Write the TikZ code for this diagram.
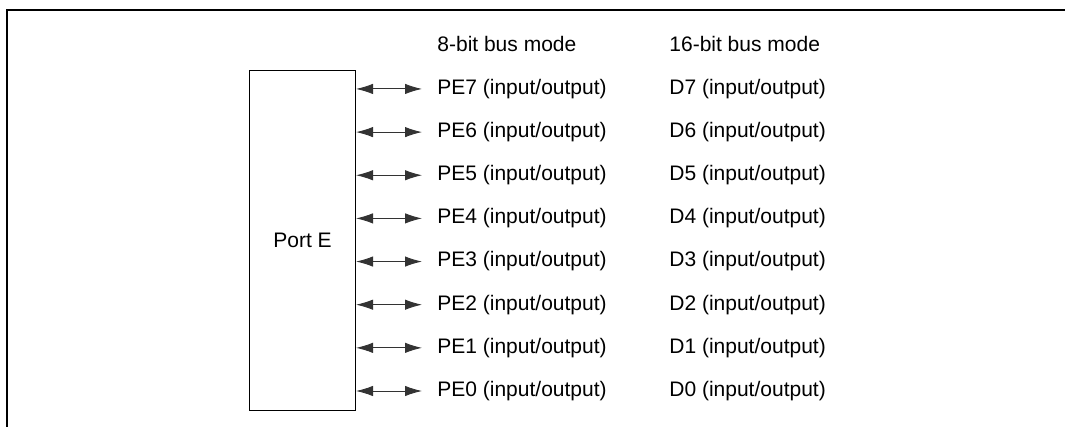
\documentclass[tikz,border=0pt]{standalone}
\usepackage{fontspec}
\setmainfont{Liberation Sans}
\usetikzlibrary{arrows.meta}
\begin{document}
\begin{tikzpicture}[x=0.5pt,y=-0.5pt,
  lbl/.style={anchor=west,inner sep=0pt,font=\fontsize{10.5pt}{12pt}\selectfont},
  bus/.style={{Latex[length=8.5pt,width=5.2pt]}-{Latex[length=8.5pt,width=5.2pt]},line width=0.45pt,draw=black!80},
  frame/.style={line width=1.3pt}]
\useasboundingbox (0,0) rectangle (1065,427);
\draw[frame] (7,427) -- (7,10) -- (1065,10);
\node (port) [draw,line width=0.5pt,minimum width=53pt,minimum height=170pt,anchor=north west,inner sep=0pt,font=\fontsize{10.5pt}{12pt}\selectfont] at (249,70) {Port E};
\node[lbl] (h8) at (437,44) {8-bit bus mode};
\node[lbl] (h16) at (669,44) {16-bit bus mode};
\foreach \i in {0,...,7}{
  \pgfmathsetmacro{\yy}{391-43.15*\i}
  \coordinate (a\i) at (422,\yy);
  \node[lbl] (pe\i) at (437,\yy) {PE\i\ (input/output)};
  \node[lbl] (d\i) at (669,\yy) {D\i\ (input/output)};
  \draw[bus] (port.east |- a\i) -- (a\i);
}
\end{tikzpicture}
\end{document}
